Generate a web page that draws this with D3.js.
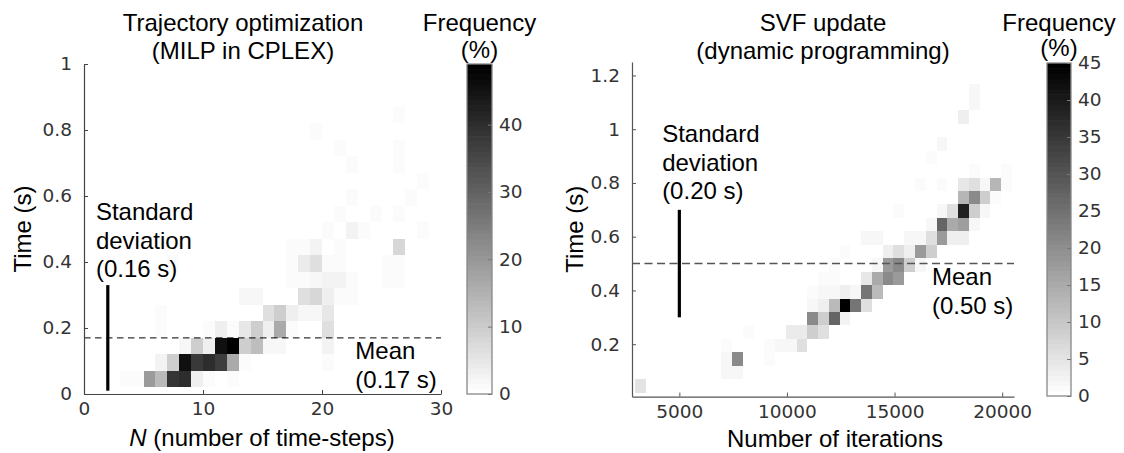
<!DOCTYPE html>
<html>
<head>
<meta charset="utf-8">
<script src="https://cdn.jsdelivr.net/npm/d3@7"></script>
<style>
  html, body { margin: 0; padding: 0; background: #fff; }
  svg { display: block; }
</style>
</head>
<body>
<svg id="chart" width="1124" height="453"></svg>
<script>
// ---------------- Trajectory optimization (MILP in CPLEX) ----------------
const trajXTicks = [0, 10, 20, 30];
const trajYTicks = [0, 0.2, 0.4, 0.6, 0.8, 1];
const trajCbTicks = [0, 10, 20, 30, 40];
const trajCbMax = 49;
const trajBinN = 1;      // one time-step per column
const trajBinT = 0.05;   // seconds per row
const trajMean = 0.17, trajStd = 0.16, trajStdN = 2;
// [N bin lower edge, time bin lower edge (s), frequency (%)]
const trajCells = [
  [3,0.02,1.5],[4,0.02,1.5],[5,0.02,19.6],[6,0.02,13.5],[7,0.02,39],[8,0.02,40],[9,0.02,3.3],[10,0.02,1.2],[12,0.02,1.2],
  [6,0.07,2.5],[7,0.07,9.8],[8,0.07,45.5],[9,0.07,38],[10,0.07,40],[11,0.07,37],[12,0.07,16.3],[13,0.07,1.5],[20,0.07,1.5],
  [8,0.12,2],[9,0.12,9.8],[10,0.12,3.3],[11,0.12,45.5],[12,0.12,48.5],[13,0.12,9.8],[14,0.12,13],[15,0.12,1.8],[16,0.12,2],[20,0.12,3],
  [6,0.17,1.5],[10,0.17,1.5],[11,0.17,3.3],[12,0.17,1.2],[13,0.17,5],[14,0.17,9.8],[15,0.17,3.3],[16,0.17,16.3],[17,0.17,1.2],[20,0.17,6.5],
  [6,0.22,1.5],[15,0.22,6.5],[16,0.22,9.8],[17,0.22,3.3],[18,0.22,2],[19,0.22,2],[20,0.22,5],
  [13,0.27,1.8],[14,0.27,2],[18,0.27,6.5],[19,0.27,8],[20,0.27,3.3],[21,0.27,1.2],[22,0.27,1.2],
  [17,0.32,1.2],[18,0.32,1.5],[19,0.32,1.8],[20,0.32,3],[21,0.32,2.3],[22,0.32,1.2],[25,0.32,1],[26,0.32,1],
  [7,0.37,1.2],[17,0.37,1.5],[18,0.37,4.5],[19,0.37,6.5],[20,0.37,1.5],[21,0.37,1.2],[25,0.37,1.2],[26,0.37,1.5],
  [17,0.42,1.2],[18,0.42,1.5],[19,0.42,3],[21,0.42,1.2],[26,0.42,8],
  [20,0.47,1.2],[22,0.47,2.3],[23,0.47,1.2],[28,0.47,1.2],
  [21,0.52,1.2],[24,0.52,1.2],[26,0.52,1.2],
  [22,0.57,1.2],[27,0.57,1.2],
  [28,0.62,1.2],
  [22,0.67,1.2],[26,0.67,1.5],
  [21,0.72,1.2],[26,0.72,1.5],
  [19,0.77,1.2],
  [26,0.82,1.2]
];

// ---------------- SVF update (dynamic programming) ----------------
const svfXTicks = [5000, 10000, 15000, 20000];
const svfYTicks = [0.2, 0.4, 0.6, 0.8, 1, 1.2];
const svfCbTicks = [0, 5, 10, 15, 20, 25, 30, 35, 40, 45];
const svfCbMax = 45;
const svfBinIter = 500;
const svfBinT = 0.05;
const svfMean = 0.50, svfStd = 0.20, svfStdIter = 5000;
// [iteration bin lower edge, time bin lower edge (s), frequency (%)]
const svfCells = [
  [2950,0.02,5.5],
  [6950,0.07,1.5],[7450,0.07,1.5],
  [6950,0.12,1.5],[7450,0.12,21],[8950,0.12,1.2],
  [6950,0.17,1.2],[8950,0.17,1.2],[9450,0.17,2],[9950,0.17,2],[10450,0.17,6],
  [7950,0.22,1.2],[9950,0.22,4],[10450,0.22,4],[10950,0.22,9],[11450,0.22,6],
  [10950,0.27,21],[11450,0.27,9],[11950,0.27,27],[12450,0.27,2.6],
  [10950,0.32,1.5],[11450,0.32,3],[11950,0.32,12],[12450,0.32,45],[12950,0.32,24],[13450,0.32,6],
  [10950,0.37,1.2],[11450,0.37,1.5],[11950,0.37,1.5],[12450,0.37,3.5],[12950,0.37,1.5],[13450,0.37,24],[13950,0.37,12],
  [11450,0.42,1.2],[11950,0.42,1.2],[13450,0.42,4.5],[13950,0.42,15],[14450,0.42,21],[14950,0.42,18],
  [11950,0.47,1.2],[13950,0.47,1.5],[14450,0.47,18],[14950,0.47,21],[15450,0.47,9],[15950,0.47,1.5],
  [12450,0.52,1.2],[14450,0.52,3],[14950,0.52,6],[15450,0.52,3],[15950,0.52,18],[16450,0.52,9],
  [13450,0.57,1.5],[13950,0.57,1.5],[15450,0.57,1.5],[15950,0.57,1.5],[16450,0.57,6],[16950,0.57,18],[17450,0.57,3],[17950,0.57,3],
  [16450,0.62,1.5],[16950,0.62,27],[17450,0.62,15],[17950,0.62,17],[18450,0.62,1.5],
  [14950,0.67,1.2],[16950,0.67,1.8],[17450,0.67,6],[17950,0.67,39],[18450,0.67,9],[18950,0.67,2.1],
  [17950,0.72,13],[18450,0.72,21],[18950,0.72,9],[19450,0.72,1.2],
  [15950,0.77,1.2],[16950,0.77,1.2],[17950,0.77,4.6],[18450,0.77,6],[18950,0.77,2.1],[19450,0.77,13],[19950,0.77,1.2],
  [18450,0.82,1.2],[19950,0.82,1.2],
  [16450,0.87,1.2],
  [16950,0.92,2],
  [17950,1.02,3],
  [18450,1.07,1.5],
  [18450,1.12,1.5]
];

// ---------------- drawing ----------------
const svg = d3.select("#chart");
const FONT = '"Liberation Sans", Arial, Helvetica, sans-serif';
const TICKFONT = '"DejaVu Sans", Verdana, sans-serif';
const LEVELS = 64;

// inverted 64-level gray colormap: 0 -> white, max -> black
function grayOf(v, vmax) {
  const i = Math.max(0, Math.min(LEVELS - 1, Math.floor(v / vmax * LEVELS)));
  const g = Math.round(255 * (1 - i / (LEVELS - 1)));
  return `rgb(${g},${g},${g})`;
}

function styleAxis(sel, color) {
  sel.attr("font-family", TICKFONT).attr("font-size", 18.5);
  sel.selectAll(".domain").attr("stroke", color).attr("stroke-width", 1.2);
  sel.selectAll(".tick line").attr("stroke", color);
  sel.selectAll(".tick text").attr("fill", "#333");
}

function text(g, str, x, y, opts = {}) {
  const t = g.append("text")
    .attr("x", x).attr("y", y)
    .attr("font-family", FONT)
    .attr("font-size", opts.size || 24)
    .attr("fill", "#000")
    .attr("text-anchor", opts.anchor || "start");
  if (opts.rotate) t.attr("transform", `rotate(-90,${x},${y})`);
  if (opts.dominant) t.attr("dominant-baseline", opts.dominant);
  t.text(str);
  return t;
}

function drawPanel(p) {
  const g = svg.append("g");
  const [x0, x1] = p.x.range();
  const [y0, y1] = p.y.range();

  // histogram cells
  g.append("g").selectAll("rect").data(p.cells).join("rect")
    .attr("x", d => p.x(d[0]))
    .attr("y", d => p.y(d[1] + p.binY))
    .attr("width", d => p.x(d[0] + p.binX) - p.x(d[0]))
    .attr("height", d => p.y(d[1]) - p.y(d[1] + p.binY))
    .attr("fill", d => grayOf(d[2], p.cbMax))
    .attr("shape-rendering", "crispEdges");

  // mean line
  g.append("line")
    .attr("x1", x0).attr("x2", x1)
    .attr("y1", p.y(p.mean)).attr("y2", p.y(p.mean))
    .attr("stroke", p.meanColor).attr("stroke-width", p.meanWidth)
    .attr("stroke-dasharray", p.meanDash);

  // standard deviation bar (mean ± std)
  g.append("line")
    .attr("x1", p.x(p.stdX)).attr("x2", p.x(p.stdX))
    .attr("y1", p.y(p.mean - p.std)).attr("y2", p.y(p.mean + p.std))
    .attr("stroke", "#000").attr("stroke-width", 3.2);

  // axes (ticks pointing inward, no box)
  const ax = g.append("g").attr("transform", `translate(0,${y0})`)
    .call(d3.axisBottom(p.x).tickValues(p.xTicks).tickFormat(d3.format("d"))
      .tickSize(-4).tickSizeOuter(0).tickPadding(8));
  styleAxis(ax, p.axisColor);
  const ay = g.append("g").attr("transform", `translate(${x0},0)`)
    .call(d3.axisLeft(p.y).tickValues(p.yTicks).tickFormat(d3.format("~g"))
      .tickSize(-4).tickSizeOuter(0).tickPadding(12));
  styleAxis(ay, p.axisColor);

  // colour bar
  const cb = d3.scaleLinear([0, p.cbMax], [p.cbY0, p.cbY1]);
  const cbg = g.append("g");
  cbg.selectAll("rect").data(d3.range(LEVELS)).join("rect")
    .attr("x", p.cbX).attr("width", p.cbW)
    .attr("y", i => cb((i + 1) * p.cbMax / LEVELS))
    .attr("height", i => cb(i * p.cbMax / LEVELS) - cb((i + 1) * p.cbMax / LEVELS) + 0.6)
    .attr("fill", i => grayOf((i + 0.5) * p.cbMax / LEVELS, p.cbMax));
  cbg.append("rect")
    .attr("x", p.cbX).attr("y", p.cbY1).attr("width", p.cbW).attr("height", p.cbY0 - p.cbY1)
    .attr("fill", "none").attr("stroke", "#888").attr("stroke-width", 1.3);
  const ac = cbg.append("g").attr("transform", `translate(${p.cbX + p.cbW},0)`)
    .call(d3.axisRight(cb).tickValues(p.cbTicks).tickFormat(d3.format("d"))
      .tickSize(-4).tickSizeOuter(0).tickPadding(7));
  ac.select(".domain").remove();
  styleAxis(ac, "#777");

  // titles and labels
  text(g, p.title[0], p.titleX, 31, { anchor: "middle" });
  text(g, p.title[1], p.titleX, 59, { anchor: "middle" });
  text(g, "Frequency", p.cbX + p.cbW / 2, 31, { anchor: "middle" });
  text(g, "(%)", p.cbX + p.cbW / 2, p.cbPctY, { anchor: "middle" });
  text(g, "Time (s)", p.yLabelX, (y0 + y1) / 2, { anchor: "middle", rotate: true, dominant: "central" });

  // annotations
  p.stdLines.forEach((s, i) => text(g, s, p.x(p.stdTextX), p.y(p.stdTextT) + i * 28.5));
  p.meanLines.forEach((s, i) => text(g, s, p.x(p.meanTextX), p.y(p.meanTextT) + i * 28.5));
  return g;
}

// left panel
const trajX = d3.scaleLinear([0, 30], [84, 441]);
const trajY = d3.scaleLinear([0, 1], [394, 64]);
const gl = drawPanel({
  x: trajX, y: trajY, cells: trajCells, binX: trajBinN, binY: trajBinT,
  xTicks: trajXTicks, yTicks: trajYTicks, axisColor: "#444",
  cbMax: trajCbMax, cbTicks: trajCbTicks, cbX: 467, cbW: 25, cbY0: 394, cbY1: 64, cbPctY: 58,
  mean: trajMean, std: trajStd, stdX: trajStdN,
  meanColor: "#000", meanWidth: 1, meanDash: "6.5,4.5",
  title: ["Trajectory optimization", "(MILP in CPLEX)"], titleX: 243, yLabelX: 22,
  stdLines: ["Standard", "deviation", "(0.16 s)"], stdTextX: 1.0, stdTextT: 0.527,
  meanLines: ["Mean", "(0.17 s)"], meanTextX: 22.8, meanTextT: 0.105
});
const xl = text(gl, "", 262, 446, { anchor: "middle" });
xl.append("tspan").attr("font-style", "italic").text("N");
xl.append("tspan").text(" (number of time-steps)");

// right panel
const svfX = d3.scaleLinear([2800, 20550], [632, 1014]);
const svfY = d3.scaleLinear([0.005, 1.25], [396.6, 62]);
const gr = drawPanel({
  x: svfX, y: svfY, cells: svfCells, binX: svfBinIter, binY: svfBinT,
  xTicks: svfXTicks, yTicks: svfYTicks, axisColor: "#555",
  cbMax: svfCbMax, cbTicks: svfCbTicks, cbX: 1047, cbW: 24, cbY0: 396, cbY1: 63, cbPctY: 56,
  mean: svfMean, std: svfStd, stdX: svfStdIter,
  meanColor: "#555", meanWidth: 1.5, meanDash: "8,4.5",
  title: ["SVF update", "(dynamic programming)"], titleX: 823, yLabelX: 575,
  stdLines: ["Standard", "deviation", "(0.20 s)"], stdTextX: 4200, stdTextT: 0.952,
  meanLines: ["Mean", "(0.50 s)"], meanTextX: 16740, meanTextT: 0.42
});
text(gr, "Number of iterations", 835, 447, { anchor: "middle" });
</script>
</body>
</html>
